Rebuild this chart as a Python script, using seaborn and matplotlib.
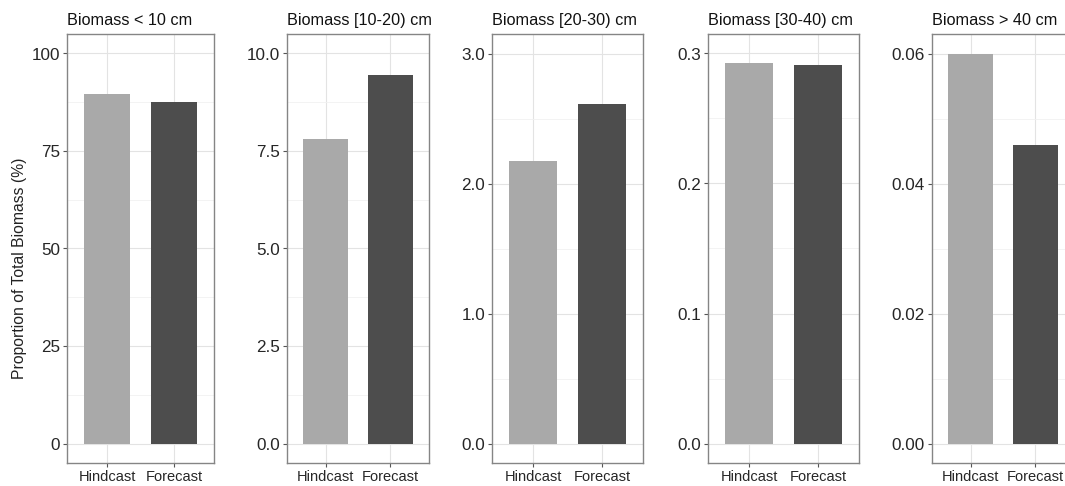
import numpy as np
import pandas as pd
import matplotlib
matplotlib.use("Agg")
import matplotlib.pyplot as plt
from matplotlib.ticker import FixedLocator, FixedFormatter
import seaborn as sns

# Size classes and their proportion of total biomass (%)
titles = ["Biomass < 10 cm", "Biomass [10-20) cm", "Biomass [20-30) cm",
          "Biomass [30-40) cm", "Biomass > 40 cm"]
periods = ["Hindcast", "Forecast"]
hindcast = [89.6, 7.82, 2.17, 0.293, 0.060]
forecast = [87.5, 9.44, 2.61, 0.291, 0.046]

# Axis upper limits and tick labels for each size class
y_tops = [100, 10, 3.0, 0.3, 0.06]
y_ticks = [[0, 25, 50, 75, 100],
           [0, 2.5, 5.0, 7.5, 10.0],
           [0, 1.0, 2.0, 3.0],
           [0, 0.1, 0.2, 0.3],
           [0, 0.02, 0.04, 0.06]]
y_labels = [["0", "25", "50", "75", "100"],
            ["0.0", "2.5", "5.0", "7.5", "10.0"],
            ["0.0", "1.0", "2.0", "3.0"],
            ["0.0", "0.1", "0.2", "0.3"],
            ["0.00", "0.02", "0.04", "0.06"]]

colors = {"Hindcast": "#A9A9A9", "Forecast": "#4D4D4D"}

sns.set_theme(style="white")
plt.rcParams["font.family"] = ["Liberation Sans", "DejaVu Sans"]

W, H = 1065, 486
fig = plt.figure(figsize=(W / 100, H / 100), dpi=100)

# Panel extents in pixels (left, right); shared top and bottom
panel_x = [(67, 214), (287, 429), (492, 643), (708, 859), (932, 1074)]
top_px, bot_px = 34, 463

for i, (x0, x1) in enumerate(panel_x):
    ax = fig.add_axes([x0 / W, (H - bot_px) / H, (x1 - x0) / W, (bot_px - top_px) / H])
    df = pd.DataFrame({"period": periods, "value": [hindcast[i], forecast[i]]})
    sns.barplot(data=df, x="period", y="value", hue="period", palette=colors,
                order=periods, hue_order=periods, width=0.7, legend=False,
                saturation=1, ax=ax, zorder=3, linewidth=0)

    top = y_tops[i]
    ax.set_ylim(-0.05 * top, 1.05 * top)
    ax.set_xlim(-0.6, 1.6)

    ticks = y_ticks[i]
    step = ticks[1] - ticks[0]
    minors = [t + step / 2 for t in ticks[:-1]]
    ax.yaxis.set_major_locator(FixedLocator(ticks))
    ax.yaxis.set_major_formatter(FixedFormatter(y_labels[i]))
    ax.yaxis.set_minor_locator(FixedLocator(minors))

    ax.grid(True, which="major", axis="both", color="#E3E3E3", lw=0.8, zorder=0)
    ax.grid(True, which="minor", axis="y", color="#F1F1F1", lw=0.6, zorder=0)
    ax.set_axisbelow(True)

    for s in ax.spines.values():
        s.set_visible(True)
        s.set_color("#858585")
        s.set_linewidth(1.0)

    ax.tick_params(axis="y", which="major", length=3, width=0.8, color="#555555",
                   labelsize=12.3, labelcolor="#262626", pad=2, left=True)
    ax.tick_params(axis="y", which="minor", length=0)
    ax.tick_params(axis="x", which="major", length=3, width=0.8, color="#555555",
                   labelsize=10.5, labelcolor="#262626", pad=2, bottom=True)

    ax.set_xlabel("")
    ax.set_ylabel("")
    ax.set_title(titles[i], loc="left", fontsize=11.7, color="#111111", pad=6.5)

fig.text(20 / W, 1 - 268 / H, "Proportion of Total Biomass (%)", rotation=90,
         ha="center", va="center", fontsize=11.3, color="#222222")

fig.savefig("out.png", dpi=100, facecolor="white")
